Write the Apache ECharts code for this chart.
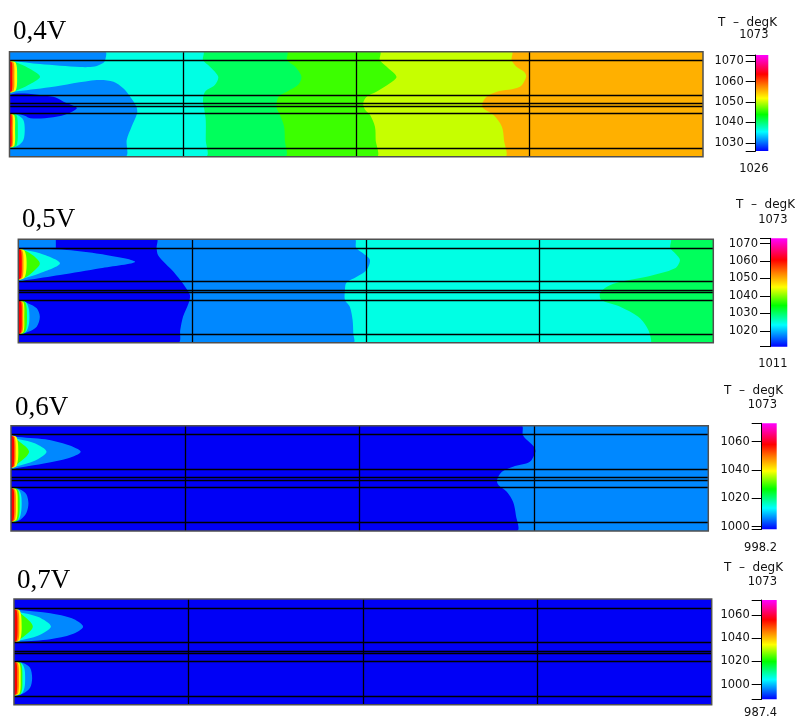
<!DOCTYPE html>
<html>
<head>
<meta charset="utf-8">
<script src="https://cdn.jsdelivr.net/npm/echarts@6/dist/echarts.min.js"></script>
<style>
  html, body { margin: 0; padding: 0; background: #fff; }
  #chart { width: 795px; height: 722px; }
</style>
</head>
<body>
<div id="chart"></div>
<script>
// Cell voltage of each panel and the range of its temperature scale (K)
const voltages = ['0,4V', '0,5V', '0,6V', '0,7V'];
const tMax = [1073, 1073, 1073, 1073];
const tMin = [1026, 1011, 998.2, 987.4];
const maxLabels = ['1073', '1073', '1073', '1073'];
const minLabels = ['1026', '1011', '998.2', '987.4'];
const scaleTicks = [
  [1030, 1040, 1050, 1060, 1070],
  [1020, 1030, 1040, 1050, 1060, 1070],
  [1000, 1020, 1040, 1060],
  [1000, 1020, 1040, 1060]
];
const scaleTitle = 'T  \u2013  degK';

// Cell geometry: x = percent of length, y = percent of thickness from the top
const layerLines = [8.5, 41, 49, 51.5, 58.5, 91.8];
const sectionLines = [25, 50, 75];

// Fill colour of each temperature band
const bandColors = {
  blue: '#0000f6', azure: '#0088ff', cyan: '#00ffe4', spring: '#00ff5c',
  green: '#3cff00', lime: '#c6ff00', orange: '#ffb000', yellow: '#ffff00',
  amber: '#ff8400', red: '#ff0000'
};

// Isotherm bands, painted in order.
// 'fill' = whole cell, 'left' = everything left of the curve, 'lobe' = closed outline
const bands04 = [
  ['orange', 'fill', []],
  ['lime', 'left', [[72.4,0],[72.4,7.9],[73.1,14.3],[74.2,19],[74.5,23.8],[73.6,33.3],[70.3,38.1],[68.8,42.9],[68.2,49.1],[68.3,53.9],[69.8,60.3],[71,71.4],[71.3,84.1],[71.4,100]]],
  ['green', 'left', [[53.4,0],[53.4,7.9],[54.4,14.3],[55.8,23.8],[54.9,29.8],[52.9,38.1],[51.5,42.9],[51,49.1],[51.3,55.5],[52,60.3],[52.7,71.4],[52.8,84.1],[52.9,100]]],
  ['spring', 'left', [[40,0],[40,7.9],[41.2,14.3],[42.1,23.8],[41.6,31.8],[40,38.1],[38.8,42.9],[38.5,52.6],[39,60.3],[39.6,71.4],[39.7,84.1],[39.7,100]]],
  ['cyan', 'left', [[27.9,0],[27.9,7.9],[28.9,14.3],[30.1,23.8],[29.6,31.8],[28.2,38.1],[27.9,46],[28.1,55.5],[28.3,65],[28.3,84.1],[28.3,100]]],
  ['azure', 'lobe', [[0,0],[13.8,0],[13.8,7.9],[13.5,10.8],[12.3,14.1],[10.2,14.6],[4.4,11.8],[0.4,8.9],[0,8.9]]],
  ['azure', 'lobe', [[0,38.1],[0.5,38.1],[5.8,33.9],[12.6,27],[15,28.6],[16.4,34.9],[17.4,42.9],[18.3,52.4],[18.4,58.7],[17.6,71.4],[16.9,84.1],[16.7,100],[0,100]]],
  ['blue', 'lobe', [[0,41.2],[6.3,42.9],[7.8,47.6],[9.7,53.3],[9,57.1],[7.5,61],[5.1,63.4],[3,63.4],[2.2,61],[1.3,59.4],[0,58.9]]],
  ['spring', 'lobe', [[0,9],[1.5,11.7],[3,16.5],[4.4,23.8],[3,30.8],[1.5,35.5],[0,38.5]]],
  ['yellow', 'lobe', [[0,9.5],[0.9,10.5],[1.1,23.8],[0.9,37],[0,38.1]]],
  ['amber', 'lobe', [[0,9.5],[0.6,10.5],[0.7,23.8],[0.6,37],[0,38.1]]],
  ['red', 'lobe', [[0,9.5],[0.35,10.5],[0.4,23.8],[0.35,37],[0,38.1]]],
  ['cyan', 'lobe', [[0,59.5],[1.2,60.5],[2,65],[2.2,74],[2,84],[1.2,89.5],[0,90.5]]],
  ['spring', 'lobe', [[0,59.5],[1,60.5],[1.2,74],[1,89.5],[0,90.5]]],
  ['yellow', 'lobe', [[0,59.5],[0.7,60.5],[0.8,74],[0.7,89.5],[0,90.5]]],
  ['amber', 'lobe', [[0,59.5],[0.45,60.5],[0.5,74],[0.45,89.5],[0,90.5]]],
  ['red', 'lobe', [[0,59.5],[0.28,60.5],[0.3,74],[0.28,89.5],[0,90.5]]]
];

const bands05 = [
  ['spring', 'fill', []],
  ['cyan', 'left', [[93.8,0],[93.8,8.1],[94.5,13.5],[95.2,20],[94.5,28],[90.4,36.2],[86.6,41],[84.7,45.8],[83.7,52.2],[83.9,58.7],[86.6,65.2],[89.2,74.9],[90.4,84.5],[90.9,92.6],[90.9,100]]],
  ['azure', 'left', [[48.4,0],[48.6,8.1],[49.6,13.5],[50.6,20],[50.1,29.7],[48.7,36.2],[47.2,42],[47,49.1],[47,58.7],[47.7,65.2],[48.1,78.1],[48.2,91],[48.2,100]]],
  ['blue', 'left', [[19.9,0],[19.9,8.1],[20.1,15.2],[20.9,21.7],[22.1,29.7],[23.3,39.4],[24,45.8],[24.7,53.8],[24.5,61.9],[23.7,74.9],[23.3,87.7],[23,100]]],
  ['azure', 'poly', [[0,0],[5.4,0],[5.4,8.1],[0,8.1]]],
  ['azure', 'lobe', [[0,8.6],[0.24,8.7],[7,10.3],[11.8,14.2],[16.8,21.7],[11.8,28],[6,34.5],[1.2,39.4],[0,40]]],
  ['cyan', 'lobe', [[0,9.5],[0.3,9.7],[3.1,13.5],[6,23.2],[3.1,32.9],[0.3,38.7],[0,39]]],
  ['green', 'lobe', [[0,10],[1,11],[2.2,16],[3.1,23.5],[2.2,31],[1,37],[0,38.5]]],
  ['yellow', 'lobe', [[0,10],[0.9,11],[1.2,23.5],[0.9,37],[0,38.5]]],
  ['amber', 'lobe', [[0,10],[0.6,11],[0.75,23.5],[0.6,37],[0,38.5]]],
  ['red', 'lobe', [[0,10],[0.4,11],[0.5,23.5],[0.4,37],[0,38.5]]],
  ['azure', 'lobe', [[0,59.4],[1.44,62],[2.65,66.8],[3.1,74.9],[2.65,84.5],[1.44,89.4],[0,91.6]]],
  ['cyan', 'lobe', [[0,59.5],[1.1,61],[1.5,67],[1.6,75],[1.5,83],[1.1,89.5],[0,91.5]]],
  ['green', 'lobe', [[0,59.5],[1,61],[1.25,75],[1,89.5],[0,91.5]]],
  ['yellow', 'lobe', [[0,59.5],[0.75,61],[0.86,75],[0.75,89.5],[0,91.5]]],
  ['amber', 'lobe', [[0,59.5],[0.6,61],[0.7,75],[0.6,89.5],[0,91.5]]],
  ['red', 'lobe', [[0,59.5],[0.42,61],[0.5,75],[0.42,89.5],[0,91.5]]]
];

const bands06 = [
  ['azure', 'fill', []],
  ['blue', 'left', [[73.2,0],[73.4,8.8],[74,13.6],[75,19.9],[75.2,24.7],[74.4,34.2],[72,38.9],[70.4,43.7],[69.7,51.6],[69.9,56.3],[71.1,62.7],[72,72.2],[72.4,84.8],[72.5,100]]],
  ['azure', 'lobe', [[0,9.5],[0.57,10.4],[4.9,12.9],[8.2,18.3],[10,24.7],[8.2,31],[4.9,35.7],[1.05,39.9],[0,40.5]]],
  ['cyan', 'lobe', [[0,10],[0.6,12],[3.4,16.7],[5.1,24.7],[3.4,33.2],[0.6,38.9],[0,39.5]]],
  ['green', 'lobe', [[0,10.5],[1.05,14.2],[2.6,24.7],[1.05,35.7],[0,39]]],
  ['yellow', 'lobe', [[0,10],[0.8,11],[1.05,24.7],[0.8,38],[0,39.5]]],
  ['amber', 'lobe', [[0,10],[0.55,11],[0.67,24.7],[0.55,38],[0,39.5]]],
  ['red', 'lobe', [[0,10],[0.38,11],[0.47,24.7],[0.38,38],[0,39.5]]],
  ['azure', 'lobe', [[0,59.5],[1.3,60.5],[2.2,65],[2.5,73.7],[2.2,83],[1.3,89.5],[0,91]]],
  ['cyan', 'lobe', [[0,59.7],[1.1,61],[1.45,66],[1.53,73.7],[1.45,82],[1.1,89],[0,90.8]]],
  ['green', 'lobe', [[0,59.7],[1,61],[1.25,73.7],[1,89],[0,90.8]]],
  ['yellow', 'lobe', [[0,59.7],[0.8,61],[0.96,73.7],[0.8,89],[0,90.8]]],
  ['amber', 'lobe', [[0,59.7],[0.58,61],[0.7,73.7],[0.58,89],[0,90.8]]],
  ['red', 'lobe', [[0,59.7],[0.38,61],[0.45,73.7],[0.38,89],[0,90.8]]]
];

const bands07 = [
  ['blue', 'fill', []],
  ['azure', 'lobe', [[0,9.5],[0.86,10.4],[5.2,13.5],[8.3,18.3],[9.9,26.2],[8.3,33.4],[5.2,38.1],[0.86,40.5],[0,41]]],
  ['cyan', 'lobe', [[0,10],[0.6,12],[3.5,17],[5.3,26],[3.5,34.5],[0.6,39.5],[0,40]]],
  ['green', 'lobe', [[0,10.5],[1.1,14.5],[2.7,26],[1.1,37],[0,40]]],
  ['yellow', 'lobe', [[0,10.2],[0.85,11.2],[1.1,26],[0.85,39],[0,40.2]]],
  ['amber', 'lobe', [[0,10.2],[0.62,11.2],[0.76,26],[0.62,39],[0,40.2]]],
  ['red', 'lobe', [[0,10.2],[0.4,11.2],[0.5,26],[0.4,39],[0,40.2]]],
  ['azure', 'lobe', [[0,59.3],[1.3,60.5],[2.3,65],[2.6,75],[2.3,84],[1.3,89.5],[0,90.8]]],
  ['cyan', 'lobe', [[0,59.5],[1.1,61],[1.5,66],[1.6,75],[1.5,84],[1.1,89.5],[0,90.6]]],
  ['green', 'lobe', [[0,59.5],[1,61],[1.2,75],[1,89.5],[0,90.6]]],
  ['yellow', 'lobe', [[0,59.5],[0.8,61],[0.96,75],[0.8,89.5],[0,90.6]]],
  ['amber', 'lobe', [[0,59.5],[0.58,61],[0.7,75],[0.58,89.5],[0,90.6]]],
  ['red', 'lobe', [[0,59.5],[0.38,61],[0.45,75],[0.38,89.5],[0,90.6]]]
];

const bandSets = [bands04, bands05, bands06, bands07];

// Page layout (pixels)
const cellBoxes = [
  { left: 9.5, top: 51.7, width: 693.5, height: 105 },
  { left: 18.3, top: 239.3, width: 695, height: 103.4 },
  { left: 11, top: 425.7, width: 697.3, height: 105.3 },
  { left: 14, top: 599, width: 697.7, height: 105.7 }
];
const barBoxes = [
  { left: 755.7, top: 55, width: 12.6, height: 96 },
  { left: 770, top: 238.3, width: 17.3, height: 108.4 },
  { left: 761.7, top: 423.3, width: 15, height: 106 },
  { left: 761.7, top: 600, width: 15, height: 99.3 }
];
const voltagePos = [[13, 32], [22, 219.5], [15, 408], [17, 581]];
const titlePos = [[777, 22.7], [795, 205], [783, 391], [783, 568.3]];
const maxPos = [[768.5, 35], [787.5, 220], [777, 405], [777, 582]];
const minPos = [[768.5, 169.5], [787.5, 364], [777, 548.3], [777, 713]];

const rainbow = [
  { offset: 0, color: '#ff00ff' },
  { offset: 0.1, color: '#ff0080' },
  { offset: 0.2, color: '#ff0000' },
  { offset: 0.32, color: '#ff8000' },
  { offset: 0.45, color: '#ffff00' },
  { offset: 0.62, color: '#00ff00' },
  { offset: 0.8, color: '#00ffff' },
  { offset: 0.9, color: '#0080ff' },
  { offset: 1, color: '#0000ff' }
];

function contourSeries(idx, bands) {
  return {
    type: 'custom',
    xAxisIndex: idx,
    yAxisIndex: idx,
    clip: true,
    silent: true,
    z: 2,
    data: bands.map((b, i) => [i]),
    renderItem(params, api) {
      const band = bands[params.dataIndex];
      const fill = bandColors[band[0]];
      const kind = band[1];
      const pts = band[2];
      const cs = params.coordSys;
      if (kind === 'fill') {
        return { type: 'rect', shape: { x: cs.x, y: cs.y, width: cs.width, height: cs.height }, style: { fill } };
      }
      let ring = pts;
      if (kind === 'left') {
        ring = [[0, pts[0][1]]].concat(pts, [[0, pts[pts.length - 1][1]]]);
      }
      return {
        type: 'polygon',
        shape: { points: ring.map(p => api.coord(p)), smooth: kind === 'poly' ? 0 : 0.3 },
        style: { fill }
      };
    },
    markLine: {
      silent: true,
      animation: false,
      symbol: ['none', 'none'],
      label: { show: false },
      lineStyle: { color: '#000', width: 1.3, type: 'solid', opacity: 1 },
      emphasis: { disabled: true },
      data: layerLines.map(v => ({ yAxis: v })).concat(sectionLines.map(v => ({ xAxis: v })))
    }
  };
}

const grid = [], xAxis = [], yAxis = [], series = [];

cellBoxes.forEach((box, i) => {
  grid.push(Object.assign({ show: true, backgroundColor: 'transparent', borderColor: '#505050', borderWidth: 1.5, z: 6 }, box));
  xAxis.push({ type: 'value', gridIndex: i, min: 0, max: 100, show: false });
  yAxis.push({ type: 'value', gridIndex: i, min: 0, max: 100, inverse: true, show: false });
  series.push(contourSeries(i, bandSets[i]));
});

barBoxes.forEach((box, i) => {
  const g = cellBoxes.length + i;
  grid.push(Object.assign({ show: false }, box));
  xAxis.push({ type: 'value', gridIndex: g, min: 0, max: 1, show: false });
  yAxis.push({
    type: 'value', gridIndex: g, min: tMin[i], max: tMax[i], position: 'left', z: 6,
    axisLine: { show: true, lineStyle: { color: '#000', width: 1 } },
    axisTick: { show: true, inside: false, length: 10, customValues: [tMin[i]].concat(scaleTicks[i], [tMax[i]]), lineStyle: { color: '#000', width: 1 } },
    axisLabel: { show: true, inside: false, customValues: scaleTicks[i], margin: 12, formatter: v => String(v),
      fontFamily: 'DejaVu Sans', fontSize: 11.5, color: '#111' },
    splitLine: { show: false }
  });
  series.push({
    type: 'custom', xAxisIndex: g, yAxisIndex: g, silent: true,
    data: [[0, tMin[i], tMax[i]]],
    renderItem(params, api) {
      const a = api.coord([0, api.value(2)]);
      const b = api.coord([1, api.value(1)]);
      return {
        type: 'rect',
        shape: { x: a[0], y: a[1], width: b[0] - a[0], height: b[1] - a[1] },
        style: { fill: { type: 'linear', x: 0, y: 0, x2: 0, y2: 1, colorStops: rainbow } }
      };
    }
  });
});

const graphic = [];
voltages.forEach((t, i) => {
  graphic.push({ type: 'text', x: voltagePos[i][0], y: voltagePos[i][1], silent: true,
    style: { text: t, fontFamily: 'Liberation Serif', fontSize: 27, fill: '#000', align: 'left', verticalAlign: 'middle' } });
  graphic.push({ type: 'text', x: titlePos[i][0], y: titlePos[i][1], silent: true,
    style: { text: scaleTitle, fontFamily: 'DejaVu Sans', fontSize: 12, fill: '#111', align: 'right', verticalAlign: 'middle' } });
  graphic.push({ type: 'text', x: maxPos[i][0], y: maxPos[i][1], silent: true,
    style: { text: maxLabels[i], fontFamily: 'DejaVu Sans', fontSize: 11.5, fill: '#111', align: 'right', verticalAlign: 'middle' } });
  graphic.push({ type: 'text', x: minPos[i][0], y: minPos[i][1], silent: true,
    style: { text: minLabels[i], fontFamily: 'DejaVu Sans', fontSize: 11.5, fill: '#111', align: 'right', verticalAlign: 'middle' } });
});

const chart = echarts.init(document.getElementById('chart'), null, { renderer: 'canvas' });
chart.setOption({
  animation: false,
  backgroundColor: '#fff',
  grid, xAxis, yAxis, series, graphic
});
</script>
</body>
</html>
